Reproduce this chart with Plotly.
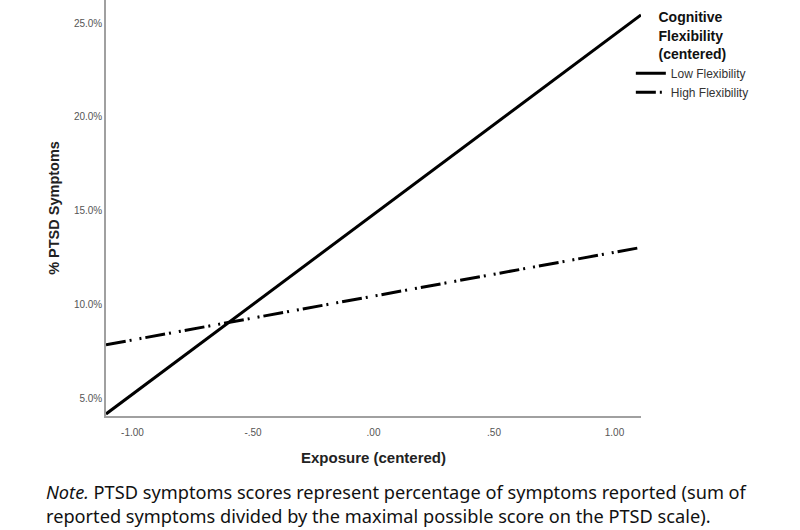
import plotly.graph_objects as go

# Data
exposure = [-1.11, 1.11]
low_flex = [0.0415, 0.2543]
high_flex = [0.0784, 0.1303]
x_tickvals = [-1.0, -0.5, 0.0, 0.5, 1.0]
x_ticktext = ["-1.00", "-.50", ".00", ".50", "1.00"]
y_tickvals = [0.05, 0.10, 0.15, 0.20, 0.25]

fig = go.Figure()
fig.add_trace(go.Scatter(
    x=exposure, y=low_flex, mode="lines", name="Low Flexibility",
    line=dict(color="black", width=3)))
fig.add_trace(go.Scatter(
    x=exposure, y=high_flex, mode="lines", name="High Flexibility",
    line=dict(color="black", width=3, dash="20px,4px,2px,8px,2px,4px")))

fig.update_layout(
    width=800, height=530,
    margin=dict(l=106, r=159, t=0, b=114, autoexpand=False),
    paper_bgcolor="white", plot_bgcolor="white",
    font=dict(family="Arial, Liberation Sans, sans-serif", color="#333"),
    showlegend=True,
    legend=dict(
        x=0.981, xanchor="left", y=0.99, yanchor="top",
        font=dict(size=12, color="#333"),
        title=dict(text="<b>Cognitive<br>Flexibility<br>(centered)</b>",
                   side="top center", font=dict(size=14, color="#111")),
        tracegroupgap=0, bgcolor="rgba(0,0,0,0)",
    ),
    xaxis=dict(
        range=[-1.11, 1.11], tickvals=x_tickvals, ticktext=x_ticktext,
        showgrid=False, zeroline=False, showline=True, linecolor="#a0a0a0",
        linewidth=1.5, ticks="", tickfont=dict(size=10, color="#555"),
        ticklabelstandoff=6, automargin=False,
        title=dict(text="<b>Exposure (centered)</b>", font=dict(size=15, color="#222"),
                   standoff=16),
    ),
    yaxis=dict(
        range=[0.0404, 0.2623], tickvals=y_tickvals, tickformat=".1%",
        showgrid=False, zeroline=False, showline=True, linecolor="#a0a0a0",
        linewidth=1.5, ticks="", tickfont=dict(size=10, color="#555"),
        automargin=False,
        title=dict(text="<b>% PTSD Symptoms</b>", font=dict(size=14.5, color="#222"),
                   standoff=11),
    ),
)

fig.add_annotation(
    text="<i>Note.</i> PTSD symptoms scores represent percentage of symptoms reported (sum of<br>"
         "reported symptoms divided by the maximal possible score on the PTSD scale).",
    xref="paper", yref="paper", x=-0.1165, y=-0.2115, xanchor="left", yanchor="middle",
    align="left", showarrow=False,
    font=dict(family="Noto Sans", size=18.2, color="#111"),
)

fig.write_html("out.html", config={"displayModeBar": False},
               post_script="document.body.style.margin='0';")
